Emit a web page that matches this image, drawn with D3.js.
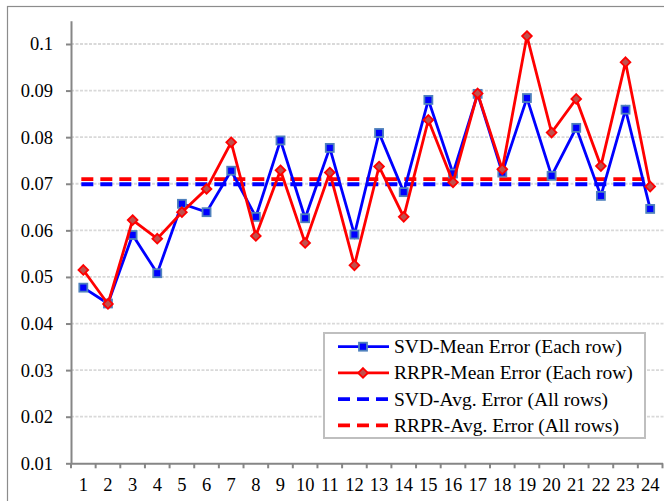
<!DOCTYPE html>
<html>
<head>
<meta charset="utf-8">
<script src="https://cdn.jsdelivr.net/npm/d3@7"></script>
<style>
  body { margin: 0; background: #fff; }
  svg { display: block; }
  svg text { font-family: "Liberation Serif", "Times New Roman", serif; fill: #000; }
</style>
</head>
<body>
<div id="chart"></div>
<script>
// data
var rows = d3.range(1, 25); // 1..24
var svdMean = [0.0477, 0.0443, 0.0590, 0.0508, 0.0657, 0.0639, 0.0728, 0.0629, 0.0793, 0.0626, 0.0777, 0.0591,
               0.0809, 0.0682, 0.0880, 0.0722, 0.0893, 0.0724, 0.0884, 0.0717, 0.0820, 0.0674, 0.0859, 0.0646];
var rrprMean = [0.0515, 0.0442, 0.0622, 0.0582, 0.0639, 0.0689, 0.0789, 0.0588, 0.0729, 0.0573, 0.0724, 0.0525,
                0.0737, 0.0629, 0.0837, 0.0703, 0.0894, 0.0731, 0.1017, 0.0810, 0.0882, 0.0738, 0.0961, 0.0694];
var svdAvg = 0.0699;
var rrprAvg = 0.0710;
var yTicks = [0.01, 0.02, 0.03, 0.04, 0.05, 0.06, 0.07, 0.08, 0.09, 0.1];
var legendLabels = ["SVD-Mean Error (Each row)", "RRPR-Mean Error (Each row)",
                    "SVD-Avg. Error (All rows)", "RRPR-Avg. Error (All rows)"];

var width = 664, height = 501;
var plotLeft = 71, plotRight = 662.5, plotTop = 20.7, plotBottom = 463.3;

var svg = d3.select("#chart").append("svg")
    .attr("width", width)
    .attr("height", height);

// outer chart border
svg.append("rect")
    .attr("x", 7.5).attr("y", 6.5)
    .attr("width", 670).attr("height", 510)
    .attr("fill", "none").attr("stroke", "#8c8c8c").attr("stroke-width", 1.2);

var x = d3.scaleBand().domain(rows).range([plotLeft, plotRight]).padding(0);
var y = d3.scaleLinear().domain([0.01, 0.105]).range([plotBottom, plotTop]);
var cx = function (d) { return x(d) + x.bandwidth() / 2; };

// gridlines
svg.append("g").selectAll("line")
    .data(yTicks.slice(1))
    .enter().append("line")
    .attr("x1", plotLeft).attr("x2", width)
    .attr("y1", function (d) { return y(d); })
    .attr("y2", function (d) { return y(d); })
    .attr("stroke", "#d9d9d9").attr("stroke-width", 1.8)
    .attr("stroke-dasharray", "3,1.5");

// y axis
var yAxis = svg.append("g")
    .attr("transform", "translate(" + plotLeft + ",0)")
    .call(d3.axisLeft(y).tickValues(yTicks).tickSize(5).tickSizeOuter(0).tickPadding(13)
        .tickFormat(function (d) { return String(+d.toFixed(2)); }));
yAxis.select(".domain").attr("stroke", "#868686").attr("stroke-width", 2);
yAxis.selectAll(".tick line").attr("stroke", "#868686").attr("stroke-width", 2);
yAxis.selectAll("text").style("font-size", "18.5px");

// x axis: labels at band centres, tick marks at band edges
var xAxis = svg.append("g")
    .attr("transform", "translate(0," + plotBottom + ")")
    .call(d3.axisBottom(x).tickSize(0).tickSizeOuter(0));
xAxis.select(".domain").attr("stroke", "#868686").attr("stroke-width", 2);
xAxis.selectAll("text").style("font-size", "18.5px")
    .attr("y", 28).attr("dy", 0);
xAxis.selectAll(".edge")
    .data(rows.map(function (d) { return x(d); }).concat([plotRight]))
    .enter().append("line")
    .attr("class", "edge")
    .attr("x1", function (d) { return d; }).attr("x2", function (d) { return d; })
    .attr("y1", 0).attr("y2", 5)
    .attr("stroke", "#868686").attr("stroke-width", 2);

// average lines (dashed)
var avgs = [{ v: svdAvg, c: "#0000ff" }, { v: rrprAvg, c: "#ff0000" }];
svg.append("g").selectAll("line")
    .data(avgs)
    .enter().append("line")
    .attr("x1", cx(rows[0]) - 2).attr("x2", cx(rows[rows.length - 1]))
    .attr("y1", function (d) { return y(d.v); })
    .attr("y2", function (d) { return y(d.v); })
    .attr("stroke", function (d) { return d.c; })
    .attr("stroke-width", 3.8)
    .attr("stroke-dasharray", "12,7");

var line = d3.line()
    .x(function (d, i) { return cx(rows[i]); })
    .y(function (d) { return y(d); });

// SVD mean line + squares
svg.append("path").datum(svdMean)
    .attr("d", line).attr("fill", "none")
    .attr("stroke", "#0000ff").attr("stroke-width", 2.8);
svg.append("g").selectAll("rect")
    .data(svdMean)
    .enter().append("rect")
    .attr("x", function (d, i) { return cx(rows[i]) - 4; })
    .attr("y", function (d) { return y(d) - 4; })
    .attr("width", 8).attr("height", 8)
    .attr("fill", "#0000ff").attr("stroke", "#4f81bd").attr("stroke-width", 1.8);

// RRPR mean line + diamonds
svg.append("path").datum(rrprMean)
    .attr("d", line).attr("fill", "none")
    .attr("stroke", "#ff0000").attr("stroke-width", 2.8);
var diamond = d3.symbol().type(d3.symbolDiamond2).size(60);
svg.append("g").selectAll("path")
    .data(rrprMean)
    .enter().append("path")
    .attr("d", diamond)
    .attr("transform", function (d, i) { return "translate(" + cx(rows[i]) + "," + y(d) + ")"; })
    .attr("fill", "#c0504d").attr("stroke", "#ff0000").attr("stroke-width", 1.8);

// legend
var lg = svg.append("g").attr("transform", "translate(324,333)");
lg.append("rect")
    .attr("width", 321).attr("height", 105)
    .attr("fill", "#fff").attr("stroke", "#bfbfbf").attr("stroke-width", 2);
var items = lg.selectAll(".item")
    .data(legendLabels)
    .enter().append("g")
    .attr("class", "item")
    .attr("transform", function (d, i) { return "translate(0," + (13.7 + i * 26.2) + ")"; });
items.append("line")
    .attr("x1", 14).attr("x2", 65).attr("y1", 0).attr("y2", 0)
    .attr("stroke", function (d, i) { return i % 2 === 0 ? "#0000ff" : "#ff0000"; })
    .attr("stroke-width", function (d, i) { return i < 2 ? 2.8 : 3.8; })
    .attr("stroke-dasharray", function (d, i) { return i < 2 ? null : "12,7"; });
items.filter(function (d, i) { return i === 0; }).append("rect")
    .attr("x", 35).attr("y", -4).attr("width", 8).attr("height", 8)
    .attr("fill", "#0000ff").attr("stroke", "#4f81bd").attr("stroke-width", 1.8);
items.filter(function (d, i) { return i === 1; }).append("path")
    .attr("d", diamond).attr("transform", "translate(39,0)")
    .attr("fill", "#c0504d").attr("stroke", "#ff0000").attr("stroke-width", 1.8);
items.append("text")
    .attr("x", 70).attr("dy", "0.33em")
    .style("font-size", "19.5px")
    .text(function (d) { return d; });
</script>
</body>
</html>
